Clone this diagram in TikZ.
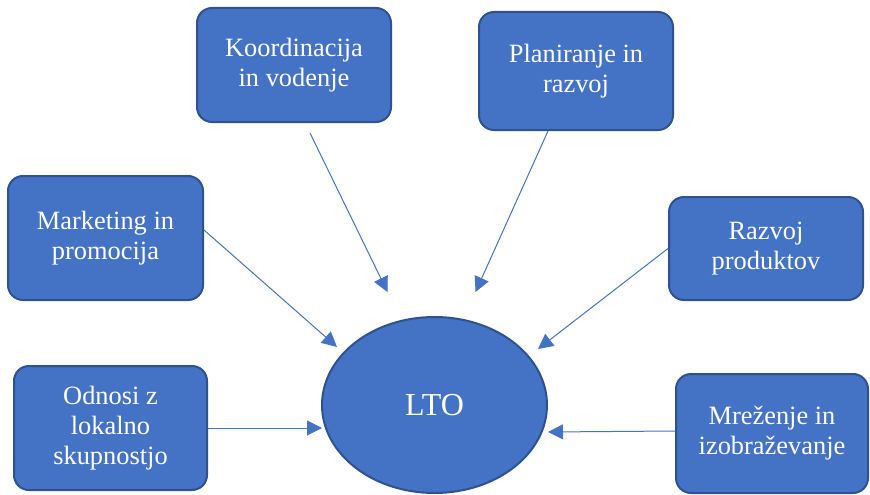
\documentclass[tikz,border=0pt]{standalone}
\usepackage{fontspec}
\setmainfont{Liberation Serif}
\usepackage{tikz}
\usetikzlibrary{shapes.geometric,arrows.meta}

\definecolor{boxfill}{HTML}{4472C4}
\definecolor{boxline}{HTML}{2F528F}

\tikzset{
    area/.style={draw=boxline, line width=2pt, fill=boxfill, rounded corners=15pt,
        text=white, align=center, inner sep=0pt,
        execute at begin node=\rule{0pt}{24pt},
        font=\fontsize{26.4}{30}\selectfont},
    centre/.style={ellipse, draw=boxline, line width=2pt, fill=boxfill, text=white,
        inner sep=0pt, minimum width=225pt, minimum height=176pt,
        font=\fontsize{32}{36}\selectfont},
    arr/.style={draw=boxfill, line width=1pt, -{Triangle[length=15pt,width=15pt]}}
}

\begin{document}
\begin{tikzpicture}[x=1pt,y=-1pt]
            \useasboundingbox (0,0) rectangle (870,495);
            \node[centre] (lto) at (434.5,405) {LTO};
            \node[area, minimum width=194pt, minimum height=114pt] (koord) at (294,65) {Koordinacija\\in vodenje};
            \node[area, minimum width=194pt, minimum height=118pt] (plan) at (576,71) {Planiranje in\\razvoj};
            \node[area, minimum width=195pt, minimum height=124pt] (mark) at (105.5,238) {Marketing in\\promocija};
            \node[area, minimum width=194pt, minimum height=103pt] (prod) at (766,248.5) {Razvoj\\produktov};
            \node[area, minimum width=193pt, minimum height=124pt] (odnosi) at (110.5,428) {Odnosi z\\lokalno\\skupnostjo};
            \node[area, minimum width=192pt, minimum height=119pt] (mrez) at (772,433.5) {Mreženje in\\izobraževanje};
                \draw[arr] ([xshift=16pt,yshift=-10pt]koord.south) -- ([xshift=-47pt,yshift=24pt]lto.north);
                \draw[arr] ([xshift=-28pt]plan.south) -- ([xshift=41pt,yshift=24pt]lto.north);
                \draw[arr] ([yshift=8pt]mark.east) -- ([xshift=16pt,yshift=58pt]lto.west);
                \draw[arr] (prod.west) -- ([xshift=-10pt,yshift=56pt]lto.east);
                \draw[arr] (odnosi.east) -- ([xshift=1pt,yshift=-23pt]lto.west);
                \draw[arr] ([yshift=2.5pt]mrez.west) -- ([yshift=-27pt]lto.east);
        \end{tikzpicture}
\end{document}
